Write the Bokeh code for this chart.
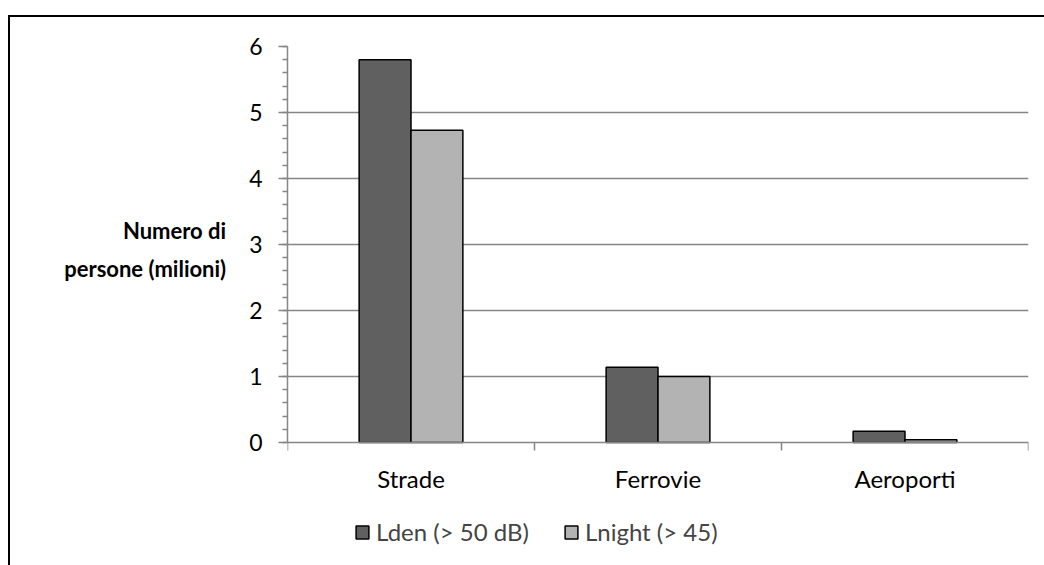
from bokeh.plotting import figure
from bokeh.models import (ColumnDataSource, Range1d, SingleIntervalTicker, FixedTicker,
                          Legend, LegendItem, InlineStyleSheet)
from bokeh.transform import dodge
from bokeh.embed import file_html
from bokeh.resources import INLINE

categories = ["Strade", "Ferrovie", "Aeroporti"]
lden = [5.80, 1.14, 0.17]
lnight = [4.73, 1.00, 0.04]
series_names = ["Lden (> 50 dB)", "Lnight (> 45)"]
y_ticks = [0, 1, 2, 3, 4, 5, 6]
y_max = 6
y_title_lines = ["Numero di", "persone (milioni)"]

FONT = "Lato"
GRID = "#868686"

centers = [i + 0.5 for i in range(len(categories))]
src = ColumnDataSource(dict(x=centers, lden=lden, lnight=lnight))

border_css = InlineStyleSheet(css="""
:host::after {
  content: "";
  position: absolute;
  left: 8px; top: 15px; right: 0; bottom: 0;
  border-left: 2px solid black;
  border-top: 2px solid black;
  pointer-events: none;
  z-index: 100;
}
""")

# frame: 741 px wide; plot area 396 px tall for 0..6, extended below for labels/legend
FRAME_H = 519
PX_PER_UNIT = 396 / y_max
y_start = y_max - FRAME_H / PX_PER_UNIT

p = figure(frame_width=741, frame_height=FRAME_H, output_backend="svg", toolbar_location=None,
           x_range=Range1d(0, len(categories)), y_range=Range1d(y_start, y_max),
           min_border_left=287, min_border_right=16, min_border_top=46,
           min_border_bottom=0, stylesheets=[border_css])
p.outline_line_color = None
p.background_fill_color = "white"
p.border_fill_color = "white"

bw = 0.21
r1 = p.vbar(x=dodge("x", -bw / 2, range=p.x_range), top="lden", bottom=0, width=bw,
            source=src, fill_color="#606060", line_color="black", line_width=1.5)
r2 = p.vbar(x=dodge("x", bw / 2, range=p.x_range), top="lnight", bottom=0, width=bw,
            source=src, fill_color="#b3b3b3", line_color="black", line_width=1.5)

# y axis
p.yaxis.bounds = (0, y_max)
p.yaxis.ticker = SingleIntervalTicker(interval=1, num_minor_ticks=5)
p.yaxis.axis_line_color = GRID
p.yaxis.axis_line_width = 1.5
p.yaxis.major_tick_line_color = GRID
p.yaxis.minor_tick_line_color = GRID
p.yaxis.major_tick_line_width = 1.5
p.yaxis.minor_tick_line_width = 1.5
p.yaxis.major_tick_out = 9
p.yaxis.major_tick_in = 0
p.yaxis.minor_tick_out = 5
p.yaxis.minor_tick_in = 0
p.yaxis.major_label_standoff = 16
p.yaxis.major_label_text_font = FONT
p.yaxis.major_label_text_font_size = "23px"
p.yaxis.major_label_text_color = "black"
# title is centred on the (extended) frame: trailing blank lines lift it to the 0..6 area
p.yaxis.axis_label = "\n".join(y_title_lines + ["\u00a0"] * 3)
p.yaxis.axis_label_orientation = "horizontal"
p.yaxis.axis_label_text_font = FONT
p.yaxis.axis_label_text_font_size = "22px"
p.yaxis.axis_label_text_font_style = "bold"
p.yaxis.axis_label_text_color = "black"
p.yaxis.axis_label_text_align = "center"
p.yaxis.axis_label_text_line_height = 1.4
p.yaxis.axis_label_standoff = 20

# x axis at value 0: labels at category centers, tick marks at boundaries
p.xaxis.fixed_location = 0
p.xaxis.ticker = FixedTicker(ticks=centers, minor_ticks=list(range(len(categories) + 1)))
p.xaxis.major_label_overrides = {c: n for c, n in zip(centers, categories)}
p.xaxis.axis_line_color = GRID
p.xaxis.axis_line_width = 1.5
p.xaxis.major_tick_line_color = None
p.xaxis.major_tick_out = 0
p.xaxis.major_tick_in = 0
p.xaxis.minor_tick_line_color = GRID
p.xaxis.minor_tick_line_width = 1.5
p.xaxis.minor_tick_out = 8
p.xaxis.minor_tick_in = 0
p.xaxis.major_label_standoff = 13
p.xaxis.major_label_text_font = FONT
p.xaxis.major_label_text_font_size = "24px"
p.xaxis.major_label_text_color = "black"

p.xgrid.visible = False
p.ygrid.ticker = FixedTicker(ticks=y_ticks[1:])
p.ygrid.grid_line_color = GRID
p.ygrid.grid_line_width = 1.5

legend = Legend(items=[LegendItem(label=series_names[0], renderers=[r1]),
                       LegendItem(label=series_names[1], renderers=[r2])],
                orientation="horizontal", location=(67, 19),
                glyph_width=16, glyph_height=16, label_standoff=6, spacing=34,
                padding=3, margin=0,
                label_text_font=FONT, label_text_font_size="24px",
                border_line_color=None, background_fill_alpha=0)
p.add_layout(legend, "center")

open("out.html", "w").write(file_html(p, INLINE))
